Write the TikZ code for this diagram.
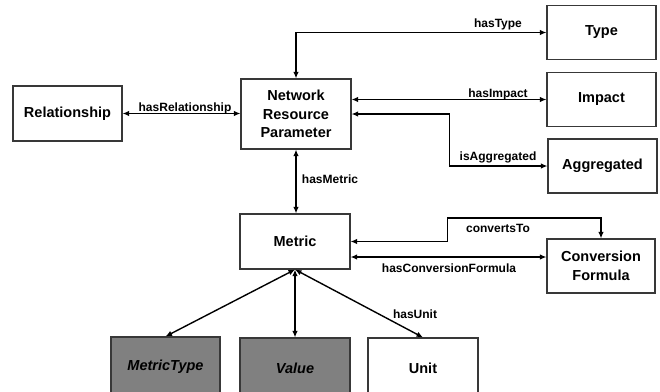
\documentclass[tikz,border=0pt]{standalone}
\usepackage{fontspec}
\setmainfont{Liberation Sans}
\usetikzlibrary{arrows.meta}
\begin{document}
\begin{tikzpicture}[x=1pt,y=-1pt,
  box/.style={draw=black!78,line width=1.1pt,fill=white,minimum width=109pt,minimum height=54pt,
    align=center,inner sep=0pt,font=\fontsize{14.5}{18.5}\selectfont\bfseries},
  shaded/.style={box,fill=black!50,font=\fontsize{14.5}{18.5}\selectfont\bfseries\itshape},
  rel/.style={line width=1.4pt,{Latex[length=6.5pt,width=5.5pt]}-{Latex[length=6.5pt,width=5.5pt]}},
  lbl/.style={anchor=base,inner sep=0pt,font=\fontsize{12}{14}\selectfont\bfseries}]
\useasboundingbox (0,0) rectangle (660,391);
\clip (0,0) rectangle (660,391);

% classes
\node[box] (type) at (601.5,32.5) {Type};
\node[box] (impact) at (601.5,99.5) {Impact};
\node[box] (aggr) at (602.5,166) {Aggregated};
\node[box,minimum width=110pt,minimum height=70pt] (nrp) at (296,114) {Network\\Resource\\Parameter};
\node[box,minimum height=55pt] (relbox) at (67.5,113.5) {Relationship};
\node[box,minimum width=110pt,minimum height=55pt] (metric) at (295,241.5) {Metric};
\node[box,minimum width=108pt] (conv) at (601,266) {Conversion\\Formula};
\node[shaded,minimum height=60pt] (mtype) at (165.5,367) {MetricType};
\node[shaded,minimum width=110pt,minimum height=60pt] (value) at (295,368) {Value};
\node[box,minimum width=110pt,minimum height=60pt] (unit) at (423,368) {Unit};

% properties
\draw[rel] (nrp.north) |- (type.west);
\draw[rel] (impact.west -| nrp.east) -- (impact.west);
\draw[rel] (nrp.east) -- ++(98,0) |- (aggr.west);
\draw[rel] (relbox.east) -- (relbox.east -| nrp.west);
\draw[rel] (nrp.south) -- (nrp.south |- metric.north);
\draw[rel] (metric.east) -| ++(97,-23.5) -| (conv.north);
\draw[rel] ([yshift=-15.5pt]metric.east) -- ([yshift=-15.5pt]metric.east -| conv.west);
\draw[rel] (metric.south) -- (mtype.north);
\draw[rel] (metric.south) -- (value.north);
\draw[rel] (metric.south) -- (unit.north);

% property labels
\node[lbl] (lType) at (498,27) {hasType};
\node[lbl] (lImpact) at (498,97) {hasImpact};
\node[lbl] (lAggr) at (498,160) {isAggregated};
\node[lbl] (lRel) at (185,111.5) {hasRelationship};
\node[lbl] (lMetric) at (330,183) {hasMetric};
\node[lbl] (lConv) at (498,232) {convertsTo};
\node[lbl] (lFormula) at (449,272) {hasConversionFormula};
\node[lbl] (lUnit) at (415,318) {hasUnit};
\end{tikzpicture}
\end{document}
